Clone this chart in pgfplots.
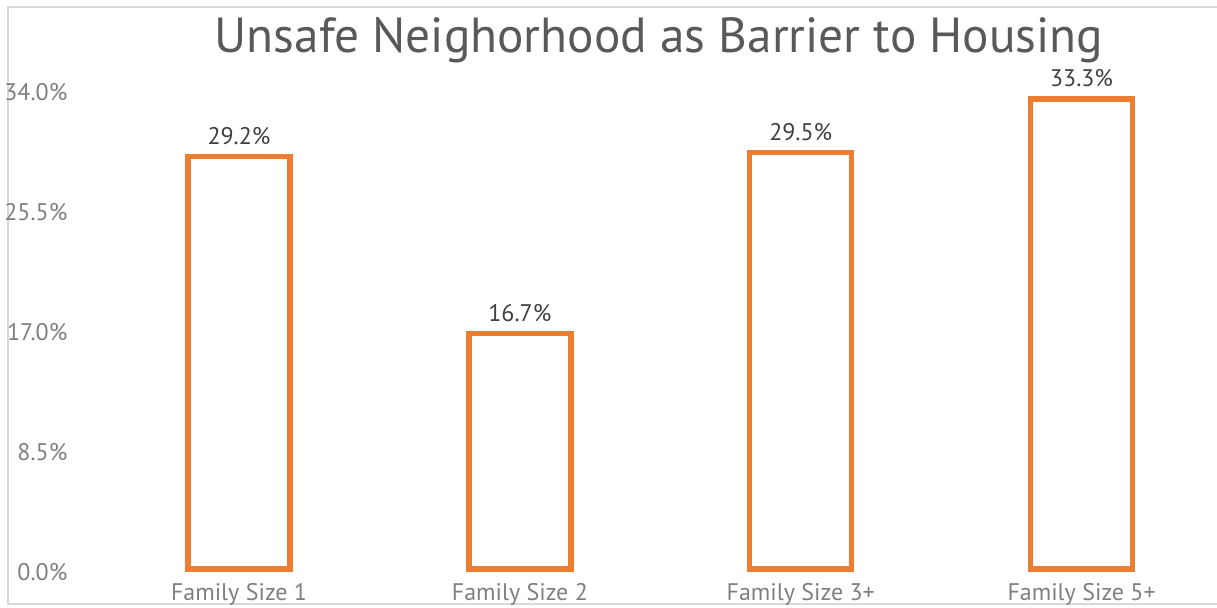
\documentclass[border=0pt]{standalone}
\usepackage{fontspec}
\setmainfont{PT Sans}
\usepackage{pgfplots}
\pgfplotsset{compat=1.18}
\definecolor{barorange}{HTML}{ED7D31}
\definecolor{titlegray}{HTML}{595959}
\definecolor{tickgray}{HTML}{7F7F7F}
\definecolor{labelgray}{HTML}{404040}
\definecolor{bordergray}{HTML}{D9D9D9}
\begin{document}
\begin{tikzpicture}[x=0.75pt,y=0.75pt]
\useasboundingbox (0,0) rectangle (1217,607);
\draw[bordergray, line width=1.5pt] (1217,3) -- (8,3) -- (8,600) -- (1217,600);
\node[anchor=base, text=titlegray, font=\fontsize{37}{40}\selectfont] at (659,554) {Unsafe Neighorhood as Barrier to Housing};
\begin{axis}[
  at={(73.95pt,28.5pt)}, anchor=south west,
  scale only axis, width=842.55pt, height=360pt,
  xmin=-0.5, xmax=3.5, ymin=0, ymax=34,
  axis line style={draw=none}, tick style={draw=none},
  ytick={0,8.5,17,25.5,34},
  yticklabels={0.0\%,8.5\%,17.0\%,25.5\%,34.0\%},
  xtick={0,1,2,3},
  xticklabels={Family Size 1,Family Size 2,Family Size 3+,Family Size 5+},
  yticklabel style={anchor=east, inner sep=0pt, xshift=-23.25pt, yshift=-2.25pt, text=tickgray, font=\fontsize{18}{20}\selectfont},
  xticklabel style={anchor=base, inner sep=0pt, yshift=-19.5pt, text=tickgray, font=\fontsize{18}{20}\selectfont},
  ybar, bar width=76.5pt,
  clip=false,
  nodes near coords,
  point meta=explicit symbolic,
  every node near coord/.append style={anchor=base, inner sep=0pt, yshift=9pt, text=labelgray, font=\fontsize{18}{20}\selectfont},
]
\addplot[draw=barorange, fill=white, line width=4pt] coordinates {
  (0,29.2) [29.2\%]
  (1,16.7) [16.7\%]
  (2,29.5) [29.5\%]
  (3,33.3) [33.3\%]
};
\end{axis}
\end{tikzpicture}
\end{document}
